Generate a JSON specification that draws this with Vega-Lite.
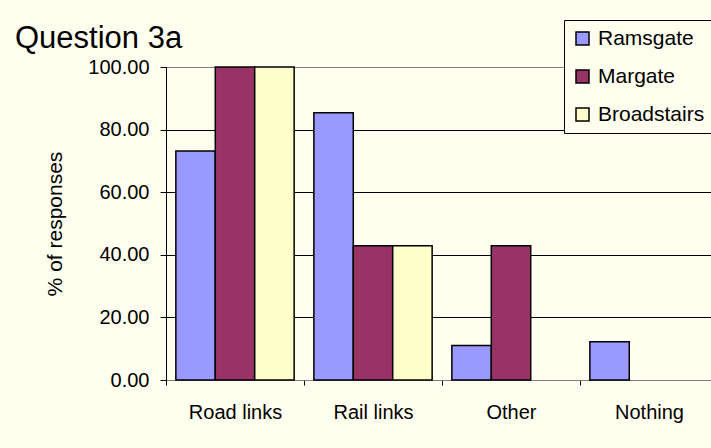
{
  "$schema": "https://vega.github.io/schema/vega-lite/v6.json",
  "autosize": {"type": "none"},
  "width": 552,
  "height": 313,
  "padding": {"left": 166, "top": 67, "right": -7, "bottom": 68},
  "background": "#FFFFF0",
  "title": {
    "text": "Question 3a",
    "anchor": "start",
    "frame": "group",
    "font": "Liberation Sans",
    "fontSize": 31,
    "fontWeight": "normal",
    "color": "black",
    "dx": -151,
    "dy": 79,
    "baseline": "alphabetic",
    "offset": 20
  },
  "data": {
    "values": [
      {"item": "Road links", "town": "Ramsgate", "pct": 73.2},
      {"item": "Road links", "town": "Margate", "pct": 100},
      {"item": "Road links", "town": "Broadstairs", "pct": 100},
      {"item": "Rail links", "town": "Ramsgate", "pct": 85.4},
      {"item": "Rail links", "town": "Margate", "pct": 42.9},
      {"item": "Rail links", "town": "Broadstairs", "pct": 42.9},
      {"item": "Other", "town": "Ramsgate", "pct": 11.0},
      {"item": "Other", "town": "Margate", "pct": 42.9},
      {"item": "Other", "town": "Broadstairs", "pct": 0},
      {"item": "Nothing", "town": "Ramsgate", "pct": 12.2},
      {"item": "Nothing", "town": "Margate", "pct": 0},
      {"item": "Nothing", "town": "Broadstairs", "pct": 0}
    ]
  },
  "transform": [{"filter": "datum.pct > 0"}],
  "mark": {"type": "bar", "stroke": "black", "strokeWidth": 1.5},
  "encoding": {
    "x": {
      "field": "item",
      "type": "nominal",
      "sort": ["Road links", "Rail links", "Other", "Nothing"],
      "scale": {"domain": ["Road links", "Rail links", "Other", "Nothing"], "paddingInner": 0, "paddingOuter": 0},
      "axis": {
        "title": null,
        "tickBand": "extent",
        "ticks": true,
        "tickSize": 5,
        "tickColor": "black",
        "domainColor": "#808080",
        "labelFontSize": 20,
        "labelFont": "Liberation Sans",
        "labelColor": "black",
        "labelPadding": 17,
        "labelAngle": 0,
        "grid": false
      }
    },
    "xOffset": {
      "field": "town",
      "type": "nominal",
      "sort": ["Ramsgate", "Margate", "Broadstairs"],
      "scale": {"domain": ["Ramsgate", "Margate", "Broadstairs"], "paddingInner": 0, "paddingOuter": 0.25}
    },
    "y": {
      "field": "pct",
      "type": "quantitative",
      "scale": {"domain": [0, 100], "nice": false},
      "axis": {
        "values": [0, 20, 40, 60, 80, 100],
        "format": ".2f",
        "grid": true,
        "gridColor": {"condition": {"test": "datum.value === 100", "value": "#808080"}, "value": "black"},
        "gridWidth": 1,
        "domainColor": "black",
        "tickColor": "black",
        "tickSize": 6,
        "labelFontSize": 20,
        "labelFont": "Liberation Sans",
        "labelColor": "black",
        "labelPadding": 11,
        "title": "% of responses",
        "titleFont": "Liberation Sans",
        "titleFontSize": 21,
        "titleFontWeight": "normal",
        "titleColor": "black",
        "titlePadding": 22
      }
    },
    "color": {
      "field": "town",
      "type": "nominal",
      "sort": ["Ramsgate", "Margate", "Broadstairs"],
      "scale": {"domain": ["Ramsgate", "Margate", "Broadstairs"], "range": ["#9999FF", "#993366", "#FFFFCC"]},
      "legend": {
        "orient": "none",
        "legendX": 398,
        "legendY": -47,
        "title": null,
        "strokeColor": "black",
        "fillColor": "#FFFFF0",
        "padding": 8,
        "symbolType": "square",
        "symbolSize": 169,
        "symbolStrokeColor": "black",
        "symbolStrokeWidth": 1.5,
        "symbolOpacity": 1,
        "labelFontSize": 21,
        "labelFont": "Liberation Sans",
        "labelColor": "black",
        "rowPadding": 16,
        "labelOffset": 5,
        "cornerRadius": 0
      }
    }
  },
  "config": {"view": {"stroke": "#808080", "fill": null}}
}
